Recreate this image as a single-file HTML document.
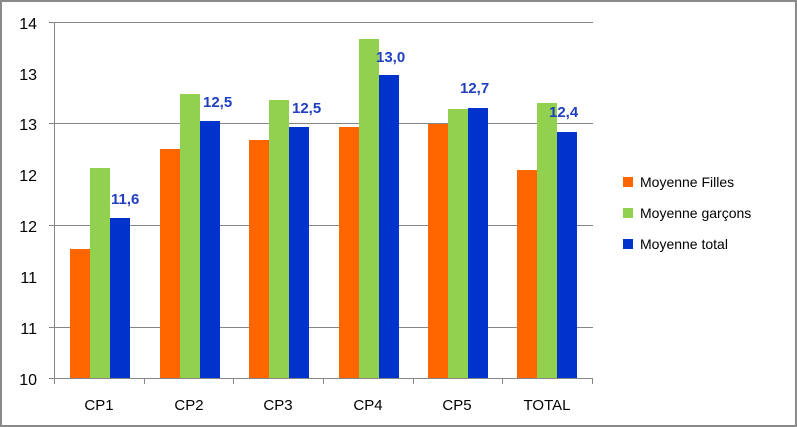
<!DOCTYPE html>
<html><head><style>body{margin:0;background:#fff}svg{display:block}text{font-family:"Liberation Sans",sans-serif}</style></head><body>
<svg width="797" height="427" xmlns="http://www.w3.org/2000/svg">
<rect x="1" y="1" width="795" height="425" fill="#fff" stroke="#8a8a8a" stroke-width="2"/>
<g stroke="#868686" stroke-width="1">
<line x1="49" y1="22.5" x2="593" y2="22.5"/>
<line x1="49" y1="123.5" x2="593" y2="123.5"/>
<line x1="49" y1="225.5" x2="593" y2="225.5"/>
<line x1="49" y1="327.5" x2="593" y2="327.5"/>
<line x1="49" y1="378.5" x2="593" y2="378.5"/>
<line x1="54.5" y1="22" x2="54.5" y2="378"/>
<line x1="54.5" y1="378" x2="54.5" y2="384"/><line x1="144.5" y1="378" x2="144.5" y2="384"/><line x1="233.5" y1="378" x2="233.5" y2="384"/><line x1="323.5" y1="378" x2="323.5" y2="384"/><line x1="413.5" y1="378" x2="413.5" y2="384"/><line x1="502.5" y1="378" x2="502.5" y2="384"/><line x1="592.5" y1="378" x2="592.5" y2="384"/>
</g>
<g font-size="16" fill="#000" text-anchor="end">
<text x="37" y="29">14</text><text x="37" y="80">13</text><text x="37" y="130">13</text><text x="37" y="181">12</text><text x="37" y="232">12</text><text x="37" y="283">11</text><text x="37" y="334">11</text><text x="37" y="385">10</text>
</g>
<g>
<rect x="70" y="249" width="20" height="129" fill="#FF6600"/><rect x="90" y="168" width="20" height="210" fill="#92D050"/><rect x="110" y="218" width="20" height="160" fill="#0033CC"/>
<rect x="160" y="149" width="20" height="229" fill="#FF6600"/><rect x="180" y="94" width="20" height="284" fill="#92D050"/><rect x="200" y="121" width="20" height="257" fill="#0033CC"/>
<rect x="249" y="140" width="20" height="238" fill="#FF6600"/><rect x="269" y="100" width="20" height="278" fill="#92D050"/><rect x="289" y="127" width="20" height="251" fill="#0033CC"/>
<rect x="339" y="127" width="20" height="251" fill="#FF6600"/><rect x="359" y="39" width="20" height="339" fill="#92D050"/><rect x="379" y="75" width="20" height="303" fill="#0033CC"/>
<rect x="428" y="124" width="20" height="254" fill="#FF6600"/><rect x="448" y="109" width="20" height="269" fill="#92D050"/><rect x="468" y="108" width="20" height="270" fill="#0033CC"/>
<rect x="517" y="170" width="20" height="208" fill="#FF6600"/><rect x="537" y="103" width="20" height="275" fill="#92D050"/><rect x="557" y="132" width="20" height="246" fill="#0033CC"/>
</g>
<g font-size="15" font-weight="bold" fill="#1F3FBF">
<text x="111" y="204">11,6</text><text x="203" y="107">12,5</text><text x="292" y="113">12,5</text><text x="376" y="62">13,0</text><text x="460" y="93">12,7</text><text x="549" y="117">12,4</text>
</g>
<g font-size="15" fill="#000" text-anchor="middle">
<text x="99" y="410">CP1</text><text x="189" y="410">CP2</text><text x="278" y="410">CP3</text><text x="368" y="410">CP4</text><text x="457" y="410">CP5</text><text x="547" y="410">TOTAL</text>
</g>
<rect x="623" y="177" width="10" height="10" fill="#FF6600"/><rect x="623" y="208" width="10" height="10" fill="#92D050"/><rect x="623" y="239" width="10" height="10" fill="#0033CC"/>
<g font-size="14" fill="#000">
<text x="640" y="187">Moyenne Filles</text><text x="640" y="218">Moyenne garçons</text><text x="640" y="249">Moyenne total</text>
</g>
</svg>
</body></html>
